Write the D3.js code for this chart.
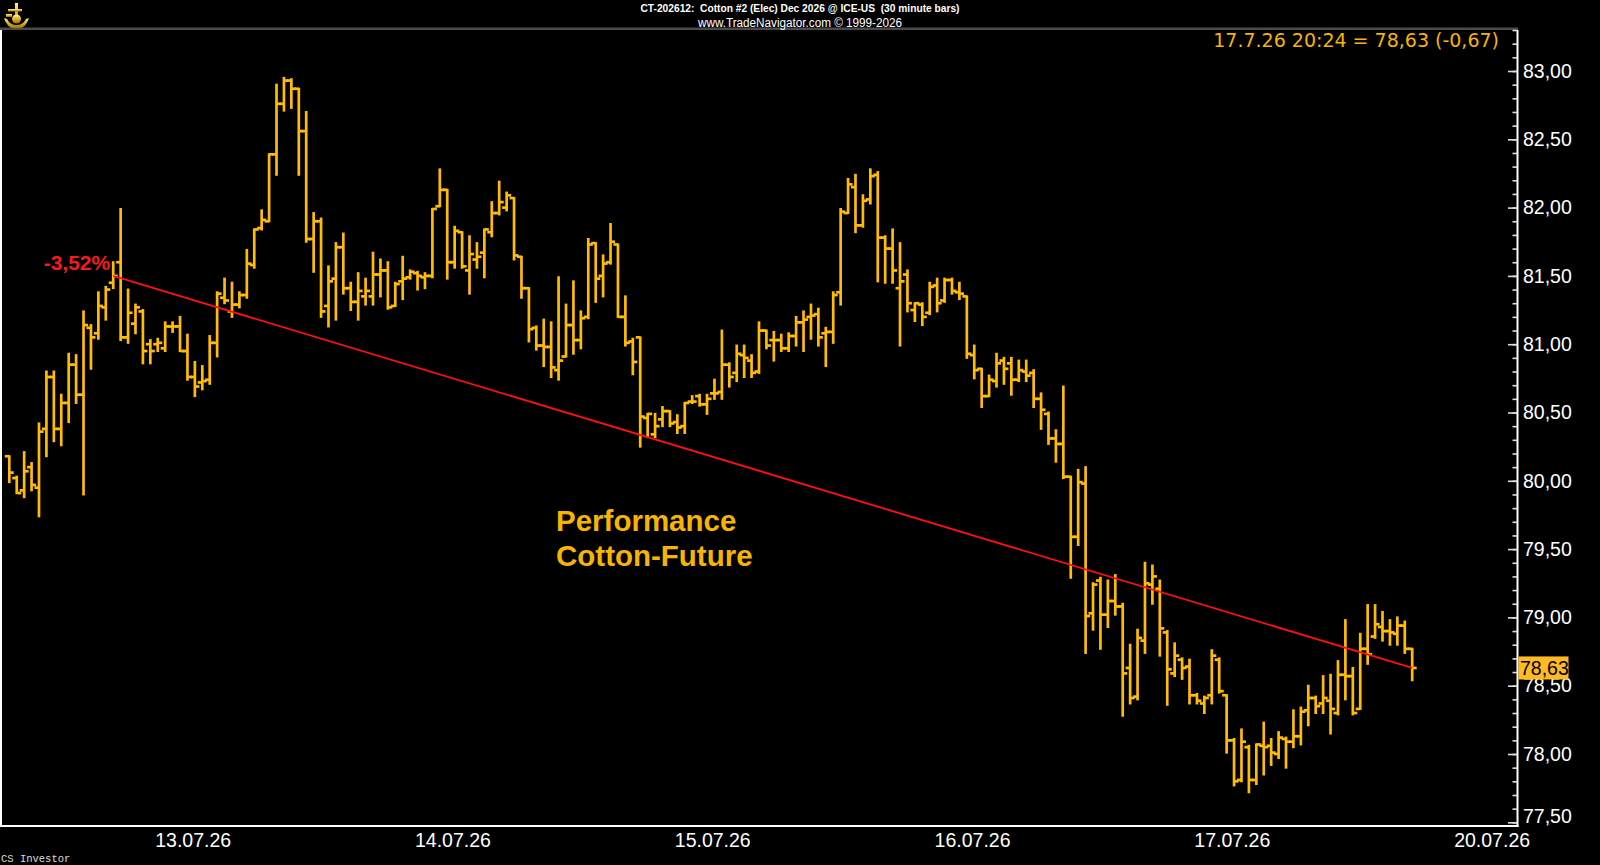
<!DOCTYPE html>
<html><head><meta charset="utf-8">
<script src="https://cdn.jsdelivr.net/npm/d3@7"></script>
<style>
html,body{margin:0;padding:0;background:#000;overflow:hidden}
svg{display:block}
</style></head><body>
<svg id="c" width="1600" height="865"></svg>
<script>
// ---- data (30 minute OHLC bars, Cotton #2 Dec 2026) ----
const opens = [80.18,80.02,79.93,80.10,79.95,80.38,80.76,80.38,80.57,80.85,
80.63,81.12,81.08,81.27,81.45,81.60,81.05,81.15,81.24,81.00,
81.00,80.97,81.13,81.13,80.95,80.76,80.72,80.74,81.01,81.34,
81.24,81.29,81.36,81.58,81.85,81.90,82.39,82.76,82.93,82.87,
82.56,81.77,81.90,81.28,81.48,81.71,81.41,81.31,81.35,81.35,
81.51,81.54,81.28,81.46,81.49,81.52,81.49,81.50,82.01,82.13,
81.60,81.82,81.54,81.62,81.67,81.82,81.96,82.00,82.07,81.64,
81.41,81.12,80.99,80.98,80.81,80.91,81.14,81.03,81.20,81.74,
81.50,81.60,81.73,81.20,81.02,81.05,80.46,80.34,80.45,80.51,
80.43,80.40,80.58,80.62,80.56,80.64,80.65,80.85,80.79,80.92,
80.88,80.80,81.10,81.03,81.03,80.97,81.06,81.16,81.20,81.22,
81.08,81.09,81.38,81.96,82.15,81.87,82.06,82.24,81.78,81.70,
81.41,81.51,81.25,81.29,81.23,81.43,81.32,81.47,81.38,81.35,
80.92,80.82,80.62,80.73,80.88,80.86,80.74,80.80,80.79,80.60,
80.49,80.31,80.27,80.03,79.59,79.98,79.03,79.27,79.02,79.12,
79.08,78.63,78.42,78.83,79.24,79.21,78.89,78.59,78.69,78.64,
78.43,78.37,78.43,78.69,78.43,78.10,77.81,78.05,77.81,78.06,
78.06,78.00,78.11,78.09,78.13,78.32,78.41,78.37,78.39,78.30,
78.58,78.57,78.33,78.77,78.86,78.93,78.90,78.88,78.94,78.77];
const highs = [80.18,80.03,80.21,80.13,80.42,80.80,80.80,80.63,80.93,80.92,
81.24,81.14,81.38,81.42,81.60,81.99,81.40,81.29,81.25,81.03,
81.04,81.16,81.16,81.20,81.07,80.87,80.84,81.06,81.38,81.48,
81.45,81.38,81.69,81.84,81.98,82.39,82.90,82.95,82.94,82.87,
82.70,81.96,81.92,81.57,81.74,81.81,81.45,81.52,81.48,81.67,
81.62,81.60,81.45,81.64,81.54,81.53,81.52,81.99,82.28,82.13,
81.86,81.82,81.79,81.74,81.84,82.04,82.19,82.11,82.07,81.64,
81.41,81.13,81.18,81.16,81.49,81.29,81.46,81.24,81.77,81.74,
81.65,81.88,81.73,81.35,81.04,81.05,80.49,80.49,80.54,80.51,
80.48,80.57,80.62,80.63,80.63,80.74,81.10,80.86,80.99,80.99,
80.92,81.16,81.10,81.09,81.07,81.08,81.20,81.24,81.29,81.26,
81.12,81.38,81.99,82.21,82.24,82.09,82.28,82.26,81.79,81.84,
81.74,81.54,81.30,81.30,81.45,81.48,81.48,81.48,81.45,81.35,
80.99,80.82,80.77,80.93,80.90,80.90,80.88,80.88,80.81,80.64,
80.50,80.37,80.69,80.03,80.08,80.10,79.25,79.29,79.27,79.31,
79.10,78.80,78.91,79.40,79.38,79.27,78.90,78.81,78.70,78.69,
78.44,78.42,78.76,78.70,78.43,78.11,78.18,78.06,78.07,78.23,
78.11,78.16,78.12,78.32,78.34,78.50,78.42,78.57,78.58,78.68,
78.98,78.63,78.88,79.09,79.09,79.04,78.98,79.00,78.97,78.77];
const lows = [79.99,79.91,79.88,79.93,79.74,80.18,80.29,80.26,80.43,80.57,
79.90,80.82,81.04,81.18,81.41,81.03,81.01,81.08,80.86,80.86,
80.95,80.95,81.09,80.95,80.74,80.62,80.67,80.71,80.91,81.30,
81.20,81.27,81.34,81.56,81.84,81.90,82.24,82.71,82.73,82.24,
81.75,81.53,81.20,81.13,81.18,81.37,81.25,81.18,81.29,81.29,
81.35,81.26,81.28,81.33,81.48,81.40,81.41,81.49,82.01,81.48,
81.56,81.56,81.37,81.56,81.49,81.79,81.95,81.98,81.62,81.34,
81.02,80.96,80.84,80.76,80.74,80.91,80.93,80.97,81.19,81.31,
81.35,81.59,81.20,80.99,80.78,80.25,80.32,80.32,80.40,80.40,
80.35,80.35,80.57,80.55,80.49,80.60,80.60,80.69,80.73,80.76,
80.76,80.79,80.97,80.88,80.95,80.95,80.99,80.95,81.04,80.99,
80.84,81.01,81.29,81.96,81.82,81.86,82.03,81.46,81.45,81.45,
80.99,81.24,81.17,81.14,81.22,81.24,81.31,81.37,81.33,80.90,
80.75,80.54,80.62,80.69,80.71,80.63,80.73,80.73,80.54,80.38,
80.27,80.14,80.02,79.29,79.53,78.74,78.91,78.77,78.93,79.02,
78.28,78.37,78.40,78.74,79.10,78.72,78.36,78.57,78.55,78.37,
78.37,78.30,78.37,78.45,78.01,77.77,77.80,77.72,77.78,77.85,
77.92,77.97,77.90,78.05,78.07,78.21,78.30,78.30,78.15,78.29,
78.40,78.29,78.33,78.66,78.85,78.83,78.80,78.80,78.74,78.54];
const closes = [80.06,79.91,80.07,79.97,80.36,80.76,80.38,80.57,80.85,80.63,
81.14,81.05,81.28,81.40,81.50,81.05,81.23,81.27,80.95,80.95,
81.01,81.13,81.13,80.95,80.76,80.69,80.73,81.01,81.37,81.32,
81.29,81.36,81.59,81.84,81.91,82.39,82.76,82.93,82.87,82.56,
81.77,81.90,81.24,81.46,81.71,81.41,81.31,81.39,81.39,81.51,
81.54,81.27,81.44,81.48,81.53,81.50,81.50,81.99,82.13,81.60,
81.83,81.57,81.66,81.64,81.84,81.96,82.04,82.09,81.65,81.41,
81.11,80.99,80.98,80.83,80.88,81.14,81.03,81.19,81.73,81.48,
81.59,81.75,81.20,81.01,80.87,80.47,80.49,80.40,80.51,80.42,
80.39,80.57,80.58,80.56,80.60,80.64,80.85,80.76,80.93,80.90,
80.79,81.10,80.99,81.03,80.97,81.06,81.16,81.18,81.21,81.05,
81.09,81.36,81.97,82.17,81.87,82.05,82.23,81.78,81.70,81.54,
81.46,81.30,81.30,81.20,81.42,81.30,81.47,81.39,81.37,80.93,
80.81,80.62,80.74,80.86,80.82,80.74,80.81,80.77,80.60,80.52,
80.31,80.27,80.03,79.59,79.99,79.01,79.24,79.02,79.12,79.08,
78.59,78.41,78.85,79.25,79.30,78.92,78.62,78.72,78.63,78.43,
78.39,78.41,78.72,78.46,78.10,77.80,78.09,77.81,78.07,78.05,
78.01,78.12,78.09,78.13,78.31,78.41,78.35,78.41,78.33,78.58,
78.57,78.30,78.77,78.73,78.95,78.90,78.89,78.94,78.77,78.63];
const dateLabels = ["13.07.26","14.07.26","15.07.26","16.07.26","17.07.26","20.07.26"];
const dateTickIndex = [24.7,59.7,94.7,129.7,164.7,199.7];
const yMajorTicks = [77.5,78,78.5,79,79.5,80,80.5,81,81.5,82,82.5,83];
const yMinorTicks = d3.range(775, 834).map(v => v / 10);
const trendStartIndex = 14;
const trendEndIndex = 189;
const lastPrice = 78.63;
const priceChange = -0.67;
const lastStamp = "17.7.26 20:24";
const titleText = "CT-202612:  Cotton #2 (Elec) Dec 2026 @ ICE-US  (30 minute bars)";
const subTitleText = "www.TradeNavigator.com \u00A9 1999-2026";
const noteLines = ["Performance", "Cotton-Future"];
const footerText = "CS Investor";

// ---- layout ----
const W = 1600, H = 865;
const plotTop = 29, plotBottom = 826, axisX = 1517;
const GOLD = "#ffbc00";
const TEXTGOLD = "#f7b400";
const fmt = v => v.toFixed(2).replace(".", ",");
const svg = d3.select("#c");
svg.append("rect").attr("width", W).attr("height", H).attr("fill", "#000");

const n = opens.length;
const x = d3.scaleLinear().domain([0, n - 1]).range([9.3, 1412.2]);
const y = d3.scaleLinear().domain([77.5, 83]).range([822.3, 71]);

// frame
svg.append("rect").attr("x", 0).attr("y", 27.5).attr("width", axisX + 1).attr("height", 2.5).attr("fill", "#4a4a4a");
svg.append("rect").attr("x", 0).attr("y", 30).attr("width", 2).attr("height", plotBottom - 30).attr("fill", "#fff");
svg.append("rect").attr("x", 0).attr("y", plotBottom - 1).attr("width", axisX + 1.5).attr("height", 2).attr("fill", "#fff");
svg.append("rect").attr("x", axisX - 0.5).attr("y", 30).attr("width", 2).attr("height", plotBottom - 29).attr("fill", "#fff");

// y axis (right side, ticks pointing left)
const gMinor = svg.append("g").attr("transform", `translate(${axisX},0)`)
  .call(d3.axisRight(y).tickValues(yMinorTicks).tickSize(-4.5).tickFormat(""));
gMinor.select(".domain").remove();
gMinor.selectAll("line").attr("stroke", "#ddd").attr("stroke-width", 1.6);
const gMajor = svg.append("g").attr("transform", `translate(${axisX},0)`)
  .call(d3.axisRight(y).tickValues(yMajorTicks).tickSize(-9).tickPadding(6).tickFormat(fmt));
gMajor.select(".domain").remove();
gMajor.selectAll("line").attr("stroke", "#ddd").attr("stroke-width", 1.6);
gMajor.selectAll("text")
  .attr("fill", "#fff").attr("font-family", "'Liberation Sans', Arial, sans-serif").attr("font-size", 19.5)
  .attr("transform", d => y(d) > plotBottom - 10 ? `translate(0,${plotBottom - 10 - y(d)})` : null);

// x axis
const gx = svg.append("g").attr("transform", `translate(0,${plotBottom})`)
  .call(d3.axisBottom(x).tickValues(dateTickIndex).tickSize(0).tickPadding(7).tickFormat((d, i) => dateLabels[i]));
gx.select(".domain").remove();
gx.selectAll("text").attr("fill", "#fff").attr("font-family", "'Liberation Sans', Arial, sans-serif").attr("font-size", 19.5);

// OHLC bars
const bars = d3.range(n).map(i => ({ i, o: opens[i], h: highs[i], l: lows[i], c: closes[i] }));
const gb = svg.append("g");
const SW = 2.7, TK = 4.5;
gb.selectAll("line.hl").data(bars).join("line").attr("class", "hl")
  .attr("x1", d => x(d.i)).attr("x2", d => x(d.i))
  .attr("y1", d => y(d.h) - 1).attr("y2", d => y(d.l) + 1)
  .attr("stroke", GOLD).attr("stroke-width", SW);
gb.selectAll("line.op").data(bars).join("line").attr("class", "op")
  .attr("x1", d => x(d.i) - TK).attr("x2", d => x(d.i))
  .attr("y1", d => y(d.o)).attr("y2", d => y(d.o))
  .attr("stroke", GOLD).attr("stroke-width", SW);
gb.selectAll("line.cl").data(bars).join("line").attr("class", "cl")
  .attr("x1", d => x(d.i)).attr("x2", d => x(d.i) + TK)
  .attr("y1", d => y(d.c)).attr("y2", d => y(d.c))
  .attr("stroke", GOLD).attr("stroke-width", SW);

// trend line
const p0 = closes[trendStartIndex], p1 = closes[trendEndIndex];
svg.append("line")
  .attr("x1", x(trendStartIndex)).attr("y1", y(p0))
  .attr("x2", x(trendEndIndex)).attr("y2", y(p1))
  .attr("stroke", "#ff1010").attr("stroke-width", 1.8);
const pct = ((p1 / p0 - 1) * 100).toFixed(2).replace(".", ",") + "%";
svg.append("text").attr("x", x(trendStartIndex) - 3).attr("y", y(p0) - 5.5)
  .attr("text-anchor", "end").attr("fill", "#f21c1c")
  .attr("font-family", "'Liberation Sans', Arial, sans-serif").attr("font-weight", "bold").attr("font-size", 21)
  .text(pct);

// last price tag
svg.append("rect").attr("x", axisX + 1.5).attr("y", y(lastPrice) - 11.5).attr("width", 50).attr("height", 23).attr("fill", "#ffb922");
svg.append("text").attr("x", axisX + 3).attr("y", y(lastPrice) + 7)
  .attr("fill", "#000").attr("font-family", "'Liberation Sans', Arial, sans-serif").attr("font-size", 19.5)
  .text(fmt(lastPrice));

// top-right info
svg.append("text").attr("x", 1499).attr("y", 47).attr("text-anchor", "end")
  .attr("fill", TEXTGOLD).attr("font-family", "'DejaVu Sans', Verdana, sans-serif").attr("font-size", 19)
  .text(`${lastStamp} = ${fmt(lastPrice)} (${fmt(priceChange)})`);

// annotation
svg.append("g").selectAll("text").data(noteLines).join("text")
  .attr("x", 556).attr("y", (d, i) => 531 + i * 34.5)
  .attr("fill", TEXTGOLD).attr("font-family", "'Liberation Sans', Arial, sans-serif")
  .attr("font-weight", "bold").attr("font-size", 29.5).text(d => d);

// titles
svg.append("text").attr("x", 800).attr("y", 12).attr("text-anchor", "middle")
  .attr("fill", "#fff").attr("font-family", "'Liberation Sans', Arial, sans-serif").attr("font-weight", "bold")
  .attr("font-size", 11).attr("textLength", 319).attr("lengthAdjust", "spacingAndGlyphs")
  .style("white-space", "pre").text(titleText);
svg.append("text").attr("x", 800).attr("y", 26.5).attr("text-anchor", "middle")
  .attr("fill", "#fff").attr("font-family", "'Liberation Sans', Arial, sans-serif")
  .attr("font-size", 12).attr("textLength", 204).attr("lengthAdjust", "spacingAndGlyphs").text(subTitleText);

// footer
svg.append("text").attr("x", 1).attr("y", 862).attr("fill", "#ddd")
  .attr("font-family", "'Liberation Mono', 'DejaVu Sans Mono', monospace").attr("font-size", 10.5).text(footerText);

// logo (small golden emblem)
const defs = svg.append("defs");
const lg = defs.append("linearGradient").attr("id", "gold").attr("x1", 0).attr("y1", 0).attr("x2", 0).attr("y2", 1);
lg.append("stop").attr("offset", "0").attr("stop-color", "#fff3a0");
lg.append("stop").attr("offset", "0.5").attr("stop-color", "#e0b020");
lg.append("stop").attr("offset", "1").attr("stop-color", "#9a7000");
const logo = svg.append("g").attr("fill", "url(#gold)");
logo.append("rect").attr("x", 15).attr("y", 3).attr("width", 3).attr("height", 20);
logo.append("rect").attr("x", 8).attr("y", 9).attr("width", 14).attr("height", 2.5);
logo.append("rect").attr("x", 6).attr("y", 14).attr("width", 6).attr("height", 3);
logo.append("circle").attr("cx", 16.5).attr("cy", 19).attr("r", 4.5);
logo.append("path").attr("d", "M4,18 Q8,30 16.5,28 Q25,30 29,18 L26,19 Q23,25 16.5,25 Q10,25 7,19 Z");
</script>
</body></html>
